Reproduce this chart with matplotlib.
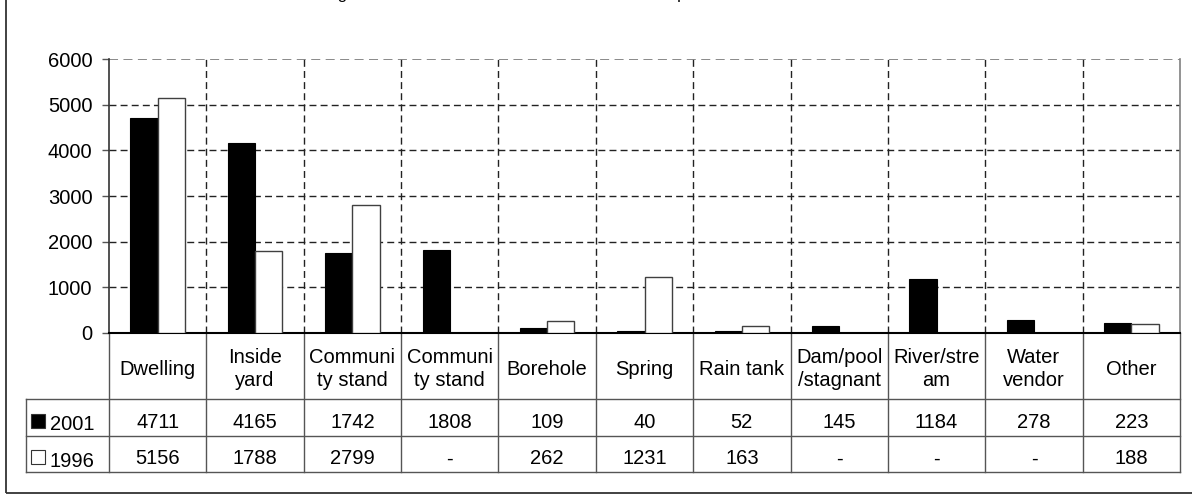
import matplotlib
matplotlib.use("Agg")
import matplotlib.pyplot as plt
from matplotlib.patches import Rectangle
import numpy as np

plt.rcParams["font.family"] = ["Liberation Sans", "DejaVu Sans"]

categories = ["Dwelling", "Inside\nyard", "Communi\nty stand", "Communi\nty stand",
              "Borehole", "Spring", "Rain tank", "Dam/pool\n/stagnant",
              "River/stre\nam", "Water\nvendor", "Other"]
vals_2001 = [4711, 4165, 1742, 1808, 109, 40, 52, 145, 1184, 278, 223]
vals_1996 = [5156, 1788, 2799, None, 262, 1231, 163, None, None, None, 188]
series_labels = ["2001", "1996"]
yticks = [0, 1000, 2000, 3000, 4000, 5000, 6000]
title = "Main source of drinking water for households in 2001 and 1996 compared"

FS = 14.5
W, H = 1192, 496
fig = plt.figure(figsize=(W / 100, H / 100), dpi=100)
ax = fig.add_axes([109 / W, (H - 333) / H, (1180 - 109) / W, (333 - 59) / H])

n = len(categories)
x = np.arange(n)
bw = 0.28

ax.bar(x - bw / 2, vals_2001, bw, color="black", edgecolor="black", lw=0.8, zorder=3)
idx96 = [i for i, v in enumerate(vals_1996) if v is not None]
ax.bar(x[idx96] + bw / 2, [vals_1996[i] for i in idx96], bw,
       color="white", edgecolor="#404040", lw=1.0, zorder=3)

ax.set_xlim(-0.5, n - 0.5)
ax.set_ylim(yticks[0], yticks[-1])
ax.set_yticks(yticks)

# dashed grid
for y in yticks[1:-1]:
    ax.axhline(y, color="#222222", lw=1, dashes=(5, 3), zorder=1)
ax.axhline(yticks[-1], color="#808080", lw=1.3, dashes=(5, 3), zorder=1)
for b in x[:-1] + 0.5:
    ax.axvline(b, color="#222222", lw=1, dashes=(5, 3), zorder=1)

ax.spines["top"].set_visible(False)
ax.spines["left"].set_linewidth(1.2)
ax.spines["left"].set_color("#333333")
ax.spines["bottom"].set_linewidth(1.5)
ax.spines["right"].set_color("#808080")
ax.spines["right"].set_linewidth(1.2)
ax.tick_params(axis="y", length=5, direction="out", labelsize=FS, pad=7, width=1,
               color="#555555")
ax.tick_params(axis="x", length=0, labelbottom=False)

# data table below the axes
tr = ax.get_xaxis_transform()
axh = 333 - 59
y1, y2, y3 = -66 / axh, -103 / axh, -139 / axh
xl = -0.5 - 83 / 97.36
lc = "#555555"
for yy in (y1, y2, y3):
    ax.plot([xl, n - 0.5], [yy, yy], transform=tr, color=lc, lw=1, clip_on=False)
ax.plot([xl, xl], [y1, y3], transform=tr, color=lc, lw=1, clip_on=False)
for b in np.arange(n + 1) - 0.5:
    ax.plot([b, b], [0, y3], transform=tr, color=lc, lw=1, clip_on=False)

for i, lab in enumerate(categories):
    ax.text(i, y1 / 2 - 0.012, lab, transform=tr, ha="center", va="center",
            fontsize=FS, linespacing=1.25)
    ax.text(i, (y1 + y2) / 2 - 0.018, str(vals_2001[i]), transform=tr,
            ha="center", va="center", fontsize=FS)
    v = vals_1996[i]
    ax.text(i, (y2 + y3) / 2 - 0.018, "-" if v is None else str(v), transform=tr,
            ha="center", va="center", fontsize=FS)

sq = 14 / axh
for yc, fc, lab in (((y1 + y2) / 2, "black", series_labels[0]),
                    ((y2 + y3) / 2, "white", series_labels[1])):
    ax.add_patch(Rectangle((xl + 5 / 97.36, yc - sq / 2 - 0.012), 14 / 97.36, sq,
                           transform=tr, facecolor=fc, edgecolor="#333333",
                           lw=0.8, clip_on=False))
    ax.text(xl + 24 / 97.36, yc - 0.026, lab, transform=tr, ha="left",
            va="center", fontsize=FS)

# outer frame (extends past top and right edges) and clipped title
fig.add_artist(Rectangle((6 / W, 3 / H), 1.2, 1.2, transform=fig.transFigure,
                         fill=False, edgecolor="#333333", lw=1.3))
fig.text(174 / W, 1 + 0.5 / H, title, fontsize=12, ha="left", va="baseline")

fig.savefig("out.png", dpi=100)
